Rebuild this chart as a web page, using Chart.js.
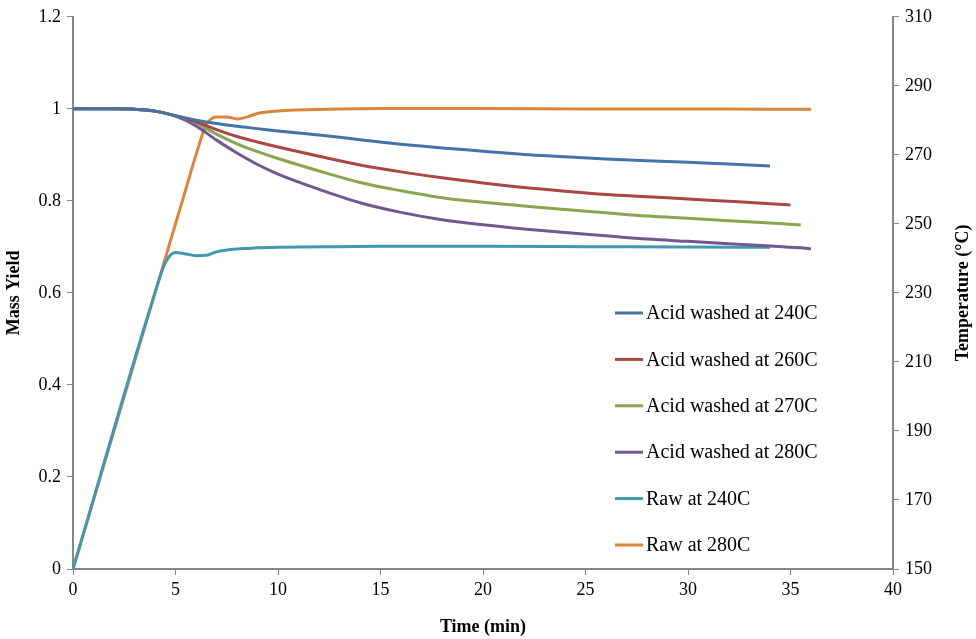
<!DOCTYPE html>
<html>
<head>
<meta charset="utf-8">
<script src="https://cdn.jsdelivr.net/npm/chart.js@4.4.1/dist/chart.umd.min.js"></script>
<style>
    html, body { margin: 0; padding: 0; background: #fff; }
    #wrap { width: 976px; height: 639px; position: relative; }
</style>
</head>
<body>
<div id="wrap"><canvas id="c"></canvas></div>
<script>
    // time (min) for the acid washed mass yield curves
    const TIME = [0, 1, 2, 3, 4, 5, 6, 7, 8, 9, 10, 12, 14, 16, 18, 20, 22, 24, 26, 28, 30, 32, 34, 35, 35.5, 36];
    const ACID_240 = [1, 1, 1, 0.999, 0.995, 0.985, 0.975, 0.968, 0.962, 0.957, 0.952, 0.943, 0.933, 0.923, 0.915, 0.908, 0.901, 0.896, 0.891, 0.887, 0.884, 0.880, 0.876];
    const ACID_260 = [1, 1, 1, 0.999, 0.995, 0.985, 0.972, 0.955, 0.940, 0.928, 0.917, 0.897, 0.878, 0.863, 0.850, 0.839, 0.829, 0.821, 0.814, 0.809, 0.804, 0.799, 0.794, 0.791];
    const ACID_270 = [1, 1, 1, 0.999, 0.995, 0.985, 0.970, 0.945, 0.924, 0.907, 0.892, 0.865, 0.840, 0.822, 0.807, 0.797, 0.789, 0.781, 0.774, 0.767, 0.762, 0.757, 0.752, 0.749, 0.748];
    const ACID_280 = [1, 1, 1, 0.999, 0.995, 0.984, 0.963, 0.932, 0.904, 0.879, 0.858, 0.825, 0.796, 0.775, 0.759, 0.748, 0.739, 0.731, 0.724, 0.717, 0.712, 0.707, 0.702, 0.699, 0.698, 0.696];

    // time (min) and temperature (°C) for the raw runs
    const TIME_RAW = [0, 4, 4.5, 5, 5.5, 6, 6.5, 7, 7.5, 8, 8.5, 9, 10, 11, 13, 15, 20, 25, 30, 34, 36];
    const RAW_240 = [150, 230, 238.7, 241.7, 241.3, 240.8, 240.9, 241.9, 242.4, 242.7, 242.9, 243.1, 243.2, 243.3, 243.4, 243.5, 243.5, 243.4, 243.3, 243.2];
    const RAW_280 = [150, 230, 240, 250, 260, 270, 278.7, 281, 281, 280.4, 281, 282, 282.7, 283, 283.3, 283.4, 283.4, 283.3, 283.3, 283.2, 283.2];

    const X_TICKS = [0, 5, 10, 15, 20, 25, 30, 35, 40];
    const YIELD_TICKS = [0, 0.2, 0.4, 0.6, 0.8, 1, 1.2];
    const TEMP_TICKS = [150, 170, 190, 210, 230, 250, 270, 290, 310];

    const AXIS = '#868686';
    const FONT = '"Liberation Serif", "Times New Roman", serif';

    function pts(xs, ys) {
        return ys.map((y, i) => ({ x: xs[i], y }));
    }

    function series(label, data, color, axis) {
        return {
            label, data, yAxisID: axis,
            borderColor: color, backgroundColor: color,
            borderWidth: 3, pointRadius: 0, fill: false,
            cubicInterpolationMode: 'monotone',
        };
    }

    // legend inside the plot area, x title, right axis title read bottom-to-top
    const extras = {
        id: 'extras',
        afterDraw(chart) {
            const ctx = chart.ctx;
            const a = chart.chartArea;
            const x0 = 615, y0 = 313, step = 46.4;
            ctx.save();
            ctx.font = '20px ' + FONT;
            ctx.textBaseline = 'middle';
            chart.data.datasets.forEach((ds, i) => {
                const y = y0 + i * step;
                ctx.strokeStyle = ds.borderColor;
                ctx.lineWidth = 3;
                ctx.beginPath();
                ctx.moveTo(x0, y);
                ctx.lineTo(x0 + 28, y);
                ctx.stroke();
                ctx.fillStyle = '#000';
                ctx.fillText(ds.label, x0 + 31, y + 1);
            });

            ctx.font = 'bold 18px ' + FONT;
            ctx.textAlign = 'center';
            ctx.fillText('Time (min)', (a.left + a.right) / 2, 627);

            ctx.translate(963, (a.top + a.bottom) / 2);
            ctx.rotate(-Math.PI / 2);
            ctx.fillText('Temperature (°C)', 0, 0);
            ctx.restore();
        },
    };

    const tickStyle = { color: '#000', font: { family: FONT, size: 18 } };
    const gridStyle = { display: true, drawOnChartArea: false, drawTicks: true, tickLength: 6, color: AXIS, lineWidth: 1 };
    const titleStyle = { display: true, color: '#000', font: { family: FONT, size: 18, weight: 'bold' } };

    new Chart(document.getElementById('c'), {
        type: 'line',
        data: {
            datasets: [
                series('Acid washed at 240C', pts(TIME, ACID_240), '#4572A7', 'y'),
                series('Acid washed at 260C', pts(TIME, ACID_260), '#AA4643', 'y'),
                series('Acid washed at 270C', pts(TIME, ACID_270), '#89A54E', 'y'),
                series('Acid washed at 280C', pts(TIME, ACID_280), '#71588F', 'y'),
                series('Raw at 240C', pts(TIME_RAW, RAW_240), '#4198AF', 'y2'),
                series('Raw at 280C', pts(TIME_RAW, RAW_280), '#DB843D', 'y2'),
            ],
        },
        options: {
            responsive: true,
            maintainAspectRatio: false,
            animation: false,
            layout: { padding: { top: 13, left: 0, right: 0, bottom: 0 } },
            plugins: { legend: { display: false }, tooltip: { enabled: false } },
            scales: {
                x: {
                    type: 'linear', min: 0, max: 40,
                    afterBuildTicks: (s) => { s.ticks = X_TICKS.map((v) => ({ value: v })); },
                    ticks: { ...tickStyle, padding: 4 },
                    grid: gridStyle,
                    border: { color: AXIS, width: 2 },
                    title: { display: false },
                    afterFit: (s) => { s.height = 70; },
                },
                y: {
                    position: 'left', min: 0, max: 1.2,
                    afterBuildTicks: (s) => { s.ticks = YIELD_TICKS.map((v) => ({ value: v })); },
                    ticks: { ...tickStyle, padding: 6, callback: (v) => String(Number(v.toFixed(1))) },
                    grid: gridStyle,
                    border: { color: AXIS, width: 2 },
                    title: { ...titleStyle, text: 'Mass Yield', padding: { bottom: 4 } },
                    afterFit: (s) => { s.width = 73; },
                },
                y2: {
                    position: 'right', min: 150, max: 310,
                    afterBuildTicks: (s) => { s.ticks = TEMP_TICKS.map((v) => ({ value: v })); },
                    ticks: { ...tickStyle, padding: 6 },
                    grid: gridStyle,
                    border: { color: AXIS, width: 2 },
                    title: { display: false },
                    afterFit: (s) => { s.width = 83; },
                },
            },
        },
        plugins: [extras],
    });
</script>
</body>
</html>
